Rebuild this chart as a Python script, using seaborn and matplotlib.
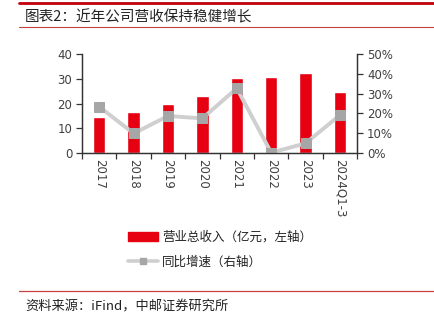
import numpy as np
import pandas as pd
import matplotlib
matplotlib.use("Agg")
import matplotlib.pyplot as plt
from matplotlib.patches import Patch
from matplotlib.lines import Line2D
from matplotlib.ticker import FuncFormatter, MultipleLocator
import seaborn as sns

# Data
years = ["2017", "2018", "2019", "2020", "2021", "2022", "2023", "2024Q1-3"]
revenue = [14.7, 16.6, 19.8, 23.0, 30.3, 30.8, 32.2, 24.8]        # 亿元
growth = [23.4, 9.9, 18.7, 17.5, 32.7, 0.2, 4.9, 19.2]            # %

sns.set_theme(style="white")
plt.rcParams["font.family"] = ["Noto Sans CJK SC", "DejaVu Sans"]

RED = "#E60012"
LINE_GRAY = "#CFCFCF"
MARK_GRAY = "#A6A6A6"
TXT = "#404040"

fig = plt.figure(figsize=(4.34, 3.25), dpi=100)
ax = fig.add_axes([0.189, 0.529, 0.634, 0.305])

df = pd.DataFrame({"year": years, "revenue": revenue, "growth": growth})
sns.barplot(data=df, x="year", y="revenue", color=RED, width=0.36,
            saturation=1, ax=ax)
ax.set_xlim(-0.5, len(years) - 0.5)
ax.set_ylim(0, 40)
ax.yaxis.set_major_locator(MultipleLocator(10))
ax.set_xlabel("")
ax.set_ylabel("")

ax2 = ax.twinx()
sns.lineplot(x=np.arange(len(years)), y=df["growth"], ax=ax2, color=LINE_GRAY,
             linewidth=2.8, marker="s", markersize=6.5, markerfacecolor=MARK_GRAY,
             markeredgecolor=MARK_GRAY)
ax2.set_ylim(0, 50)
ax2.yaxis.set_major_locator(MultipleLocator(10))
ax2.yaxis.set_major_formatter(FuncFormatter(lambda v, p: f"{v:.0f}%"))
ax2.set_ylabel("")
ax2.set_xlim(-0.5, len(years) - 0.5)

tick_font = dict(family=["DejaVu Sans"], size=8.5, color=TXT)
for a in (ax, ax2):
    a.spines["top"].set_visible(False)
    for s in ("left", "right", "bottom"):
        a.spines[s].set_color("#333333")
        a.spines[s].set_linewidth(0.9)

# x ticks: labels at centers, tick marks at category boundaries
ax.set_xticks(np.arange(len(years)))
ax.set_xticklabels(years, rotation=-90, **tick_font)
ax.tick_params(axis="x", which="major", length=0, pad=4)
ax.set_xticks(np.arange(len(years) + 1) - 0.5, minor=True)
ax.tick_params(axis="x", which="minor", length=4, width=0.9, color="#333333",
               direction="out", bottom=True)
ax.tick_params(axis="y", length=4, width=0.9, color="#333333", direction="out",
               left=True, pad=3)
ax2.tick_params(axis="y", length=4, width=0.9, color="#333333", direction="out",
                right=True, pad=3)
for lab in ax.get_yticklabels():
    lab.set(**tick_font)
for lab in ax2.get_yticklabels():
    lab.set(**tick_font)

# Legend
handles = [Patch(facecolor=RED, edgecolor=RED, label="营业总收入（亿元，左轴）"),
           Line2D([0], [0], color=LINE_GRAY, linewidth=2.6, marker="s",
                  markersize=5, markerfacecolor=MARK_GRAY,
                  markeredgecolor=MARK_GRAY, label="同比增速（右轴）")]
fig.legend(handles=handles, loc="upper left", bbox_to_anchor=(0.27, 0.325),
           frameon=False, fontsize=9, handlelength=2.4, handleheight=0.7,
           labelspacing=0.95, handletextpad=0.3, labelcolor="#222222")

# Header and footer rules
fig.add_artist(Line2D([0.044, 1.0], [0.991, 0.991], color="#C0000A",
                      linewidth=2.0, transform=fig.transFigure))
fig.add_artist(Line2D([0.044, 1.0], [0.917, 0.917], color="#C84040",
                      linewidth=0.8, transform=fig.transFigure))
fig.add_artist(Line2D([0.044, 1.0], [0.105, 0.105], color="#C84040",
                      linewidth=0.9, transform=fig.transFigure))
fig.text(0.058, 0.948, "图表2：近年公司营收保持稳健增长", fontsize=10.5,
         color="#222222", va="center", ha="left")
fig.text(0.058, 0.055, "资料来源：iFind，中邮证券研究所", fontsize=9.5,
         color="#222222", va="center", ha="left")

fig.savefig("out.png", dpi=100, facecolor="white")
